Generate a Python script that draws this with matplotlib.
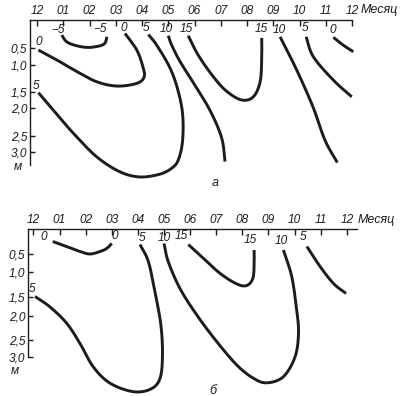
import numpy as np
import matplotlib
matplotlib.use("Agg")
import matplotlib.pyplot as plt

plt.rcParams['font.family'] = ['Liberation Sans', 'DejaVu Sans']

MONTH_LABELS = ["12", "01", "02", "03", "04", "05", "06", "07", "08", "09", "10", "11", "12"]
DEPTH_TICKS = [0.5, 1.0, 1.5, 2.0, 2.5, 3.0]
DEPTH_LABELS = ["0,5", "1,0", "1,5", "2,0", "2,5", "3,0"]

# ---- panel a isopleths (month, depth m) ----
a_m5_month = [0.94, 1.13, 1.51, 1.96, 2.40, 2.59, 2.66]
a_m5_depth = [0.27, 0.39, 0.46, 0.49, 0.46, 0.41, 0.30]
a_0_month = [0.05, 0.75, 1.51, 2.27, 3.04, 3.80, 4.08, 4.03, 3.80, 3.35]
a_0_depth = [0.56, 0.85, 1.12, 1.31, 1.39, 1.34, 1.22, 1.03, 0.56, 0.24]
a_5_month = [0.05, 0.62, 1.38, 2.27, 3.16, 3.92, 4.69, 5.14, 5.38, 5.54, 5.55, 5.38, 5.07, 4.56, 4.24]
a_5_depth = [1.52, 2.04, 2.45, 3.15, 3.62, 3.78, 3.69, 3.50, 3.25, 2.68, 2.13, 1.49, 1.06, 0.45, 0.26]
a_10_month = [5.00, 5.13, 5.45, 6.06, 6.50, 6.85, 7.07, 7.16]
a_10_depth = [0.28, 0.45, 0.90, 1.41, 1.94, 2.30, 2.68, 3.30]
a_15_month = [5.76, 6.14, 6.72, 7.23, 7.80, 8.24, 8.50, 8.56, 8.56]
a_15_depth = [0.28, 0.71, 1.22, 1.49, 1.75, 1.65, 1.31, 0.80, 0.32]
a_10r_month = [9.26, 9.89, 10.51, 10.97, 11.44]
a_10r_depth = [0.30, 1.09, 1.96, 2.63, 3.33]
a_5r_month = [10.25, 10.53, 11.29, 11.99]
a_5r_depth = [0.30, 0.76, 1.28, 1.65]
a_0r_month = [11.29, 11.67, 12.05]
a_0r_depth = [0.31, 0.45, 0.61]

a_label_text = ["\u22125", "\u22125", "0", "5", "10", "15", "15", "10", "5", "0", "0", "5"]
a_label_month = [0.80, 2.40, 3.31, 4.14, 4.94, 5.70, 8.56, 9.22, 10.21, 11.26, 0.08, -0.04]
a_label_depth = [0.17, 0.16, 0.15, 0.15, 0.16, 0.16, 0.16, 0.18, 0.15, 0.18, 0.39, 1.39]

# ---- panel b isopleths ----
b_0_month = [0.74, 1.27, 1.78, 2.16, 2.55, 2.80, 3.00]
b_0_depth = [0.25, 0.35, 0.45, 0.50, 0.45, 0.39, 0.29]
b_5_month = [0.06, 0.63, 1.27, 1.78, 2.29, 2.93, 3.82, 4.50, 4.85, 4.94, 4.88, 4.65, 4.40, 4.08]
b_5_depth = [1.49, 1.76, 2.15, 2.60, 3.29, 3.77, 4.02, 3.94, 3.62, 2.94, 2.19, 1.39, 0.71, 0.31]
b_10_month = [5.00, 5.16, 5.61, 6.25, 7.02, 7.79, 8.41, 8.93, 9.57, 10.02, 10.15, 10.08, 9.89, 9.57]
b_10_depth = [0.29, 0.71, 1.33, 1.97, 2.55, 3.24, 3.62, 3.76, 3.58, 2.99, 2.36, 1.84, 1.09, 0.42]
b_15_month = [5.93, 6.51, 7.15, 7.79, 8.17, 8.40, 8.45, 8.45]
b_15_depth = [0.31, 0.62, 1.03, 1.24, 1.27, 1.13, 0.81, 0.42]
b_5r_month = [10.47, 10.98, 11.49, 11.97]
b_5r_depth = [0.35, 0.85, 1.23, 1.43]

b_label_text = ["0", "0", "5", "10", "15", "15", "10", "5", "5"]
b_label_month = [0.41, 3.12, 4.15, 5.00, 5.68, 8.30, 9.51, 10.34, -0.07]
b_label_depth = [0.17, 0.15, 0.18, 0.18, 0.15, 0.23, 0.25, 0.16, 1.35]


def make_funcs(knots, slope):
    D = np.array([0, .5, 1, 1.5, 2, 2.5, 3.])
    K = np.array(knots, float)

    def fwd(d):
        d = np.asarray(d, float)
        return np.where(d > 3, K[-1] + (d - 3) * slope,
                        np.where(d < 0, d * K[1] / 0.5, np.interp(d, D, K)))

    def inv(o):
        o = np.asarray(o, float)
        return np.where(o > K[-1], 3 + (o - K[-1]) / slope,
                        np.where(o < 0, o * 0.5 / K[1], np.interp(o, K, D)))
    return fwd, inv


def catmull(xs, ys, n=24):
    P = np.column_stack([xs, ys]).astype(float)
    P = np.vstack([2 * P[0] - P[1], P, 2 * P[-1] - P[-2]])
    out = []
    t = np.linspace(0, 1, n, endpoint=False)[:, None]
    for i in range(1, len(P) - 2):
        p0, p1, p2, p3 = P[i - 1], P[i], P[i + 1], P[i + 2]
        pt = 0.5 * ((2 * p1) + (-p0 + p2) * t + (2 * p0 - 5 * p1 + 4 * p2 - p3) * t ** 2
                    + (-p0 + 3 * p1 - 3 * p2 + p3) * t ** 3)
        out.append(pt)
    out.append(P[-2][None])
    return np.vstack(out)


W, H = 400, 396
fig = plt.figure(figsize=(W / 100, H / 100), dpi=100)
INK = "#1c1c1c"
FS = 8.6


def panel(rect, xlim, ylim, knots, slope, curves, labels, caption, cap_xy, m_xy, mes_xy):
    ax = fig.add_axes([rect[0] / W, 1 - rect[3] / H, (rect[2] - rect[0]) / W, (rect[3] - rect[1]) / H])
    fwd, inv = make_funcs(knots, slope)
    ax.set_yscale('function', functions=(fwd, inv))
    ax.set_xlim(*xlim)
    ax.set_ylim(ylim, 0)
    for mo, de in curves:
        pts = catmull(np.array(mo), fwd(np.array(de)))
        ax.plot(pts[:, 0], inv(pts[:, 1]), color=INK, lw=2.1, solid_capstyle='butt', clip_on=False)
    for txt, mo, de in zip(*labels):
        ax.text(mo, de, txt, ha='center', va='center', fontsize=FS, style='italic', color=INK, clip_on=False)
    ax.xaxis.tick_top()
    ax.set_xticks(range(13))
    ax.set_xticklabels(MONTH_LABELS, fontsize=FS, style='italic', color=INK)
    ax.set_yticks(DEPTH_TICKS)
    ax.set_yticklabels(DEPTH_LABELS, fontsize=FS, style='italic', color=INK)
    ax.yaxis.set_minor_locator(matplotlib.ticker.NullLocator())
    ax.tick_params(axis='x', direction='in', length=4, width=1.0, pad=2, colors=INK)
    ax.tick_params(axis='y', direction='in', length=3.5, width=1.0, pad=2, colors=INK)
    for s in ['right', 'bottom']:
        ax.spines[s].set_visible(False)
    for s in ['left', 'top']:
        ax.spines[s].set_linewidth(1.0)
        ax.spines[s].set_color(INK)
    ax.patch.set_visible(False)
    fig.text(mes_xy[0] / W, 1 - mes_xy[1] / H, "Месяц", fontsize=FS + 0.4, style='italic',
             color=INK, ha='left', va='center')
    fig.text(m_xy[0] / W, 1 - m_xy[1] / H, "м", fontsize=FS, style='italic', color=INK,
             ha='center', va='center')
    fig.text(cap_xy[0] / W, 1 - cap_xy[1] / H, caption, fontsize=FS + 0.5, style='italic',
             color=INK, ha='center', va='center')
    return ax


curves_a = [(a_m5_month, a_m5_depth), (a_0_month, a_0_depth), (a_5_month, a_5_depth),
            (a_10_month, a_10_depth), (a_15_month, a_15_depth), (a_10r_month, a_10r_depth),
            (a_5r_month, a_5r_depth), (a_0r_month, a_0r_depth)]
curves_b = [(b_0_month, b_0_depth), (b_5_month, b_5_depth), (b_10_month, b_10_depth),
            (b_15_month, b_15_depth), (b_5r_month, b_5r_depth)]

panel((30, 20, 352, 165), (-0.27, 12.0), 3.406, [0, 28, 45, 72, 88, 116, 132], 32,
      curves_a, (a_label_text, a_label_month, a_label_depth), "а", (215, 183), (18, 167), (361, 10))
panel((28, 229, 357, 357), (-0.21, 12.39), 3.0, [0, 25, 43, 68, 87, 111, 128], 34,
      curves_b, (b_label_text, b_label_month, b_label_depth), "б", (213, 391), (15, 371), (358, 220))

fig.savefig("out.png", dpi=100)
